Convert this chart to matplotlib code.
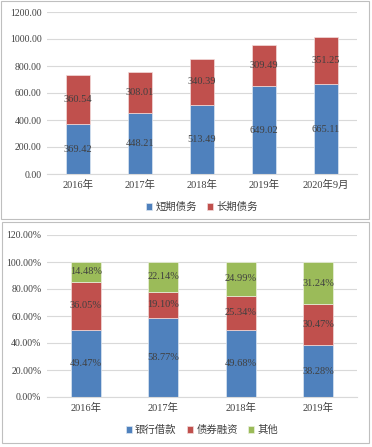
import matplotlib
matplotlib.use("Agg")
import matplotlib.pyplot as plt
import numpy as np
from matplotlib.patches import Rectangle

plt.rcParams['font.family'] = ['Liberation Serif', 'Noto Sans CJK SC']

cats1 = ["2016年", "2017年", "2018年", "2019年", "2020年9月"]
short_debt = [369.42, 448.21, 513.49, 649.02, 665.11]
long_debt = [360.54, 308.01, 340.39, 309.49, 351.25]
yticks1 = [0, 200, 400, 600, 800, 1000, 1200]

cats2 = ["2016年", "2017年", "2018年", "2019年"]
bank = [49.47, 58.77, 49.68, 38.28]
bond = [36.05, 19.10, 25.34, 30.47]
other = [14.48, 22.14, 24.99, 31.24]
yticks2 = [0, 20, 40, 60, 80, 100, 120]

BLUE = "#4f81bd"
RED = "#c0504d"
GREEN = "#9bbb59"
TXT = "#404040"
GRID = "#d9d9d9"

fig = plt.figure(figsize=(3.72, 4.47), dpi=100)
W, H = 372, 447

def px(x0, y0, x1, y1):
    return [x0 / W, 1 - y1 / H, (x1 - x0) / W, (y1 - y0) / H]

# panel borders
for (x0, y0, x1, y1) in [(1, 1, 369, 219), (2, 222, 369, 443)]:
    fig.patches.append(Rectangle((x0 / W, 1 - y1 / H), (x1 - x0) / W, (y1 - y0) / H,
                                 transform=fig.transFigure, fill=False,
                                 edgecolor="#bfbfbf", linewidth=0.8))

def style(ax, yticks, fmt):
    ax.set_ylim(yticks[0], yticks[-1])
    ax.set_yticks(yticks)
    ax.set_yticklabels([fmt(v) for v in yticks], fontsize=7, color=TXT)
    ax.grid(axis='y', color=GRID, linewidth=0.8)
    ax.set_axisbelow(True)
    for s in ["top", "right", "left"]:
        ax.spines[s].set_visible(False)
    ax.spines["bottom"].set_color(GRID)
    ax.tick_params(axis='both', length=0, pad=4)
    ax.tick_params(axis='x', labelsize=7.5, colors=TXT)

# top chart
ax1 = fig.add_axes(px(47, 12, 357, 174))
x1 = np.arange(len(cats1))
w = 0.39
ax1.bar(x1, short_debt, w, color=BLUE, label="短期债务", edgecolor="#dce6f2", linewidth=0.5)
ax1.bar(x1, long_debt, w, bottom=short_debt, color=RED, label="长期债务", edgecolor="#f2dcdb", linewidth=0.5)
for i in range(len(cats1)):
    ax1.text(x1[i], short_debt[i] / 2, f"{short_debt[i]:.2f}", ha='center', va='center', fontsize=7.5, color=TXT)
    ax1.text(x1[i], short_debt[i] + long_debt[i] / 2, f"{long_debt[i]:.2f}", ha='center', va='center', fontsize=7.5, color=TXT)
ax1.set_xlim(-0.5, len(cats1) - 0.5)
ax1.set_xticks(x1)
ax1.set_xticklabels(cats1)
style(ax1, yticks1, lambda v: f"{v:.2f}")
ax1.legend(loc='center', bbox_to_anchor=(0.5, -0.205), ncol=2, frameon=False,
           fontsize=7.5, handlelength=0.6, handleheight=0.6, handletextpad=0.3,
           columnspacing=1.0, labelcolor=TXT)

# bottom chart
ax2 = fig.add_axes(px(47, 235, 357, 397))
x2 = np.arange(len(cats2))
b1 = np.array(bank)
b2 = b1 + np.array(bond)
ax2.bar(x2, bank, w, color=BLUE, label="银行借款", edgecolor="#dce6f2", linewidth=0.5)
ax2.bar(x2, bond, w, bottom=b1, color=RED, label="债券融资", edgecolor="#f2dcdb", linewidth=0.5)
ax2.bar(x2, other, w, bottom=b2, color=GREEN, label="其他", edgecolor="#ebf1de", linewidth=0.5)
for i in range(len(cats2)):
    ax2.text(x2[i], bank[i] / 2, f"{bank[i]:.2f}%", ha='center', va='center', fontsize=7.5, color=TXT)
    ax2.text(x2[i], b1[i] + bond[i] / 2, f"{bond[i]:.2f}%", ha='center', va='center', fontsize=7.5, color=TXT)
    ax2.text(x2[i], b2[i] + other[i] / 2, f"{other[i]:.2f}%", ha='center', va='center', fontsize=7.5, color=TXT)
ax2.set_xlim(-0.5, len(cats2) - 0.5)
ax2.set_xticks(x2)
ax2.set_xticklabels(cats2)
style(ax2, yticks2, lambda v: f"{v:.2f}%")
ax2.legend(loc='center', bbox_to_anchor=(0.5, -0.205), ncol=3, frameon=False,
           fontsize=7.5, handlelength=0.6, handleheight=0.6, handletextpad=0.3,
           columnspacing=1.0, labelcolor=TXT)

fig.savefig("out.png", dpi=100)
